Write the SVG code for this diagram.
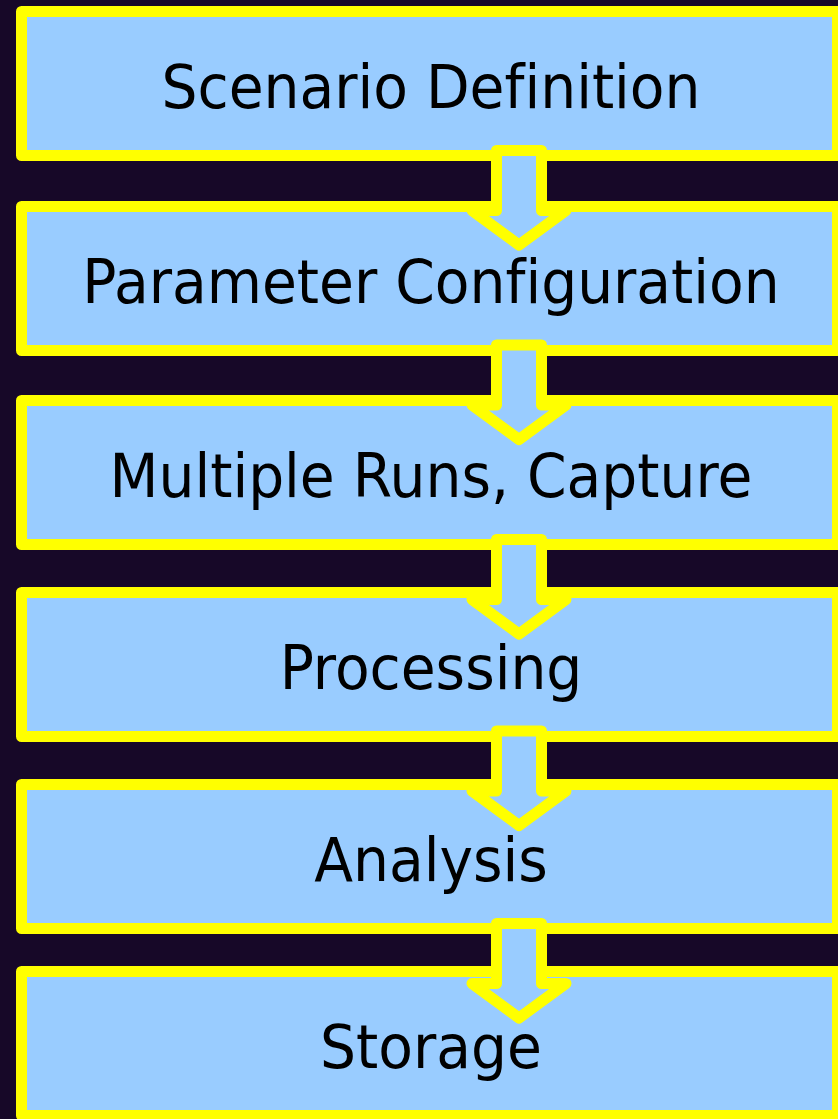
<svg xmlns="http://www.w3.org/2000/svg" width="838" height="1119" viewBox="0 0 838 1119">
<style>
.box{fill:#99CCFF;stroke:#FFFF00;stroke-width:11;stroke-linejoin:round}
.arr{fill:#99CCFF;stroke:#FFFF00;stroke-width:11;stroke-linejoin:round}
.lbl{font-family:"DejaVu Sans",sans-serif;font-size:60px;fill:#000;text-anchor:middle;font-variant-ligatures:none}
</style>
<rect width="838" height="1119" fill="#170828"/>
<g id="n1"><rect class="box" x="21.5" y="11.5" width="816" height="144"/><text class="lbl" transform="translate(431,108) scale(0.945,1)">Scenario Definition</text></g>
<g id="n2"><rect class="box" x="21.5" y="206.5" width="816" height="144"/><text class="lbl" transform="translate(431,303) scale(0.945,1)">Parameter Configuration</text></g>
<g id="n3"><rect class="box" x="21.5" y="400.5" width="816" height="144"/><text class="lbl" transform="translate(431,497) scale(0.945,1)">Multiple Runs, Capture</text></g>
<g id="n4"><rect class="box" x="21.5" y="592.5" width="816" height="144"/><text class="lbl" transform="translate(431,689) scale(0.945,1)">Processing</text></g>
<g id="n5"><rect class="box" x="21.5" y="784.5" width="816" height="144"/><text class="lbl" transform="translate(431,881) scale(0.945,1)">Analysis</text></g>
<g id="n6"><rect class="box" x="21.5" y="971.5" width="816" height="144"/><text class="lbl" transform="translate(431,1068) scale(0.945,1)">Storage</text></g>
<g id="connectors">
<path class="arr" d="M496.5 150.5H541.5V210.5H566L519 245L472 210.5H496.5Z"/>
<path class="arr" d="M496.5 345H541.5V405H566L519 439.5L472 405H496.5Z"/>
<path class="arr" d="M496.5 539.5H541.5V599.5H566L519 634L472 599.5H496.5Z"/>
<path class="arr" d="M496.5 731H541.5V791H566L519 825.5L472 791H496.5Z"/>
<path class="arr" d="M496.5 923.5H541.5V983.5H566L519 1018L472 983.5H496.5Z"/>
</g>
</svg>
